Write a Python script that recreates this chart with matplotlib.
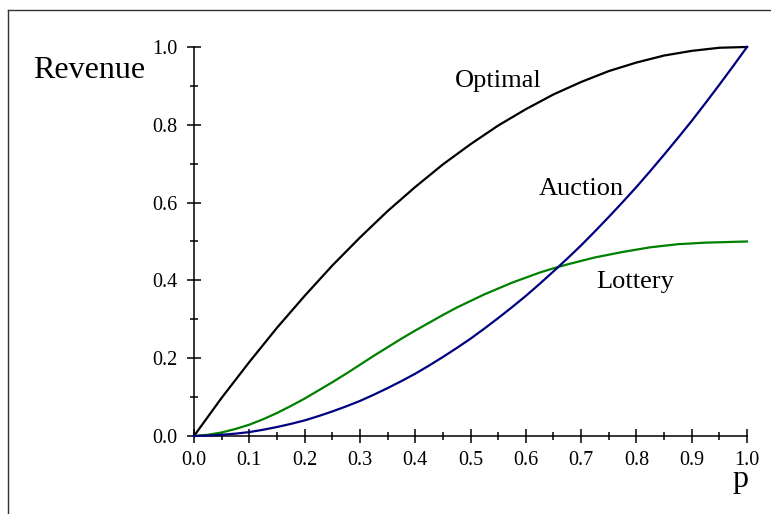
import matplotlib
matplotlib.use("Agg")
import matplotlib.pyplot as plt
from matplotlib.lines import Line2D
from matplotlib.ticker import MultipleLocator

# valores (paso 0.025 en p)
p = [0.000, 0.025, 0.050, 0.075, 0.100, 0.125, 0.150, 0.175, 0.200, 0.225,
     0.250, 0.275, 0.300, 0.325, 0.350, 0.375, 0.400, 0.425, 0.450, 0.475,
     0.500, 0.525, 0.550, 0.575, 0.600, 0.625, 0.650, 0.675, 0.700, 0.725,
     0.750, 0.775, 0.800, 0.825, 0.850, 0.875, 0.900, 0.925, 0.950, 0.975, 1.000]
optimal = [0.000, 0.049, 0.098, 0.144, 0.190, 0.234, 0.278, 0.319, 0.360, 0.399,
           0.438, 0.474, 0.510, 0.544, 0.578, 0.609, 0.640, 0.669, 0.698, 0.724,
           0.750, 0.774, 0.798, 0.819, 0.840, 0.859, 0.878, 0.894, 0.910, 0.924,
           0.938, 0.949, 0.960, 0.969, 0.978, 0.984, 0.990, 0.994, 0.998, 0.999, 1.000]
auction = [0.000, 0.001, 0.003, 0.006, 0.010, 0.016, 0.023, 0.031, 0.040, 0.051,
           0.063, 0.076, 0.090, 0.106, 0.123, 0.141, 0.160, 0.181, 0.203, 0.226,
           0.250, 0.276, 0.303, 0.331, 0.360, 0.391, 0.423, 0.456, 0.490, 0.526,
           0.563, 0.601, 0.640, 0.681, 0.723, 0.766, 0.810, 0.856, 0.903, 0.951, 1.000]
lottery = [0.000, 0.003, 0.009, 0.018, 0.029, 0.043, 0.059, 0.077, 0.096, 0.117,
           0.138, 0.160, 0.183, 0.206, 0.228, 0.250, 0.271, 0.291, 0.311, 0.330,
           0.347, 0.364, 0.379, 0.394, 0.407, 0.420, 0.431, 0.441, 0.450, 0.459,
           0.466, 0.473, 0.479, 0.485, 0.489, 0.493, 0.495, 0.497, 0.498, 0.499, 0.500]

x_ticks = [0.0, 0.1, 0.2, 0.3, 0.4, 0.5, 0.6, 0.7, 0.8, 0.9, 1.0]
y_ticks = [0.0, 0.2, 0.4, 0.6, 0.8, 1.0]

plt.rcParams['font.family'] = ['Liberation Serif', 'DejaVu Serif']

fig = plt.figure(figsize=(7.71, 5.14), dpi=100)
ax = fig.add_axes([0.2516, 0.1518, 0.7173, 0.7568])

ax.plot(p, optimal, color="black", linewidth=1.6, clip_on=False, zorder=3)
ax.plot(p, lottery, color="#008000", linewidth=1.6, clip_on=False, zorder=3)
ax.plot(p, auction, color="#000080", linewidth=1.6, clip_on=False, zorder=3)

ax.set_xlim(0, 1)
ax.set_ylim(0, 1)

# ejes tipo Maple
ax.spines['top'].set_visible(False)
ax.spines['right'].set_visible(False)
for s in ['left', 'bottom']:
    ax.spines[s].set_linewidth(1.1)

ax.set_xticks(x_ticks)
ax.set_yticks(y_ticks)
ax.set_xticklabels([f"{v:.1f}" for v in x_ticks])
ax.set_yticklabels([f"{v:.1f}" for v in y_ticks])
ax.xaxis.set_minor_locator(MultipleLocator(0.05))
ax.yaxis.set_minor_locator(MultipleLocator(0.1))
ax.tick_params(which='major', direction='inout', length=10, width=1.1, labelsize=14.5)
ax.tick_params(axis='x', which='major', pad=6)
ax.tick_params(axis='y', which='major', pad=7)
ax.tick_params(which='minor', direction='inout', length=6, width=1.1)

# textos
ax.text(-0.291, 0.92, "Revenue", fontsize=23, ha="left", va="baseline")
ax.text(0.472, 0.897, "Optimal", fontsize=19, ha="left", va="baseline")
ax.text(0.623, 0.620, "Auction", fontsize=19, ha="left", va="baseline")
ax.text(0.728, 0.380, "Lottery", fontsize=19, ha="left", va="baseline")
ax.text(0.973, -0.131, "p", fontsize=23, ha="left", va="baseline")

# marco de la figura (solo arriba e izquierda visibles)
fig.add_artist(Line2D([0.011, 1.0], [0.9815, 0.9815], color="#333333", linewidth=1.0))
fig.add_artist(Line2D([0.011, 0.011], [0.0, 0.9815], color="#333333", linewidth=1.0))

fig.savefig("out.png", dpi=100)
